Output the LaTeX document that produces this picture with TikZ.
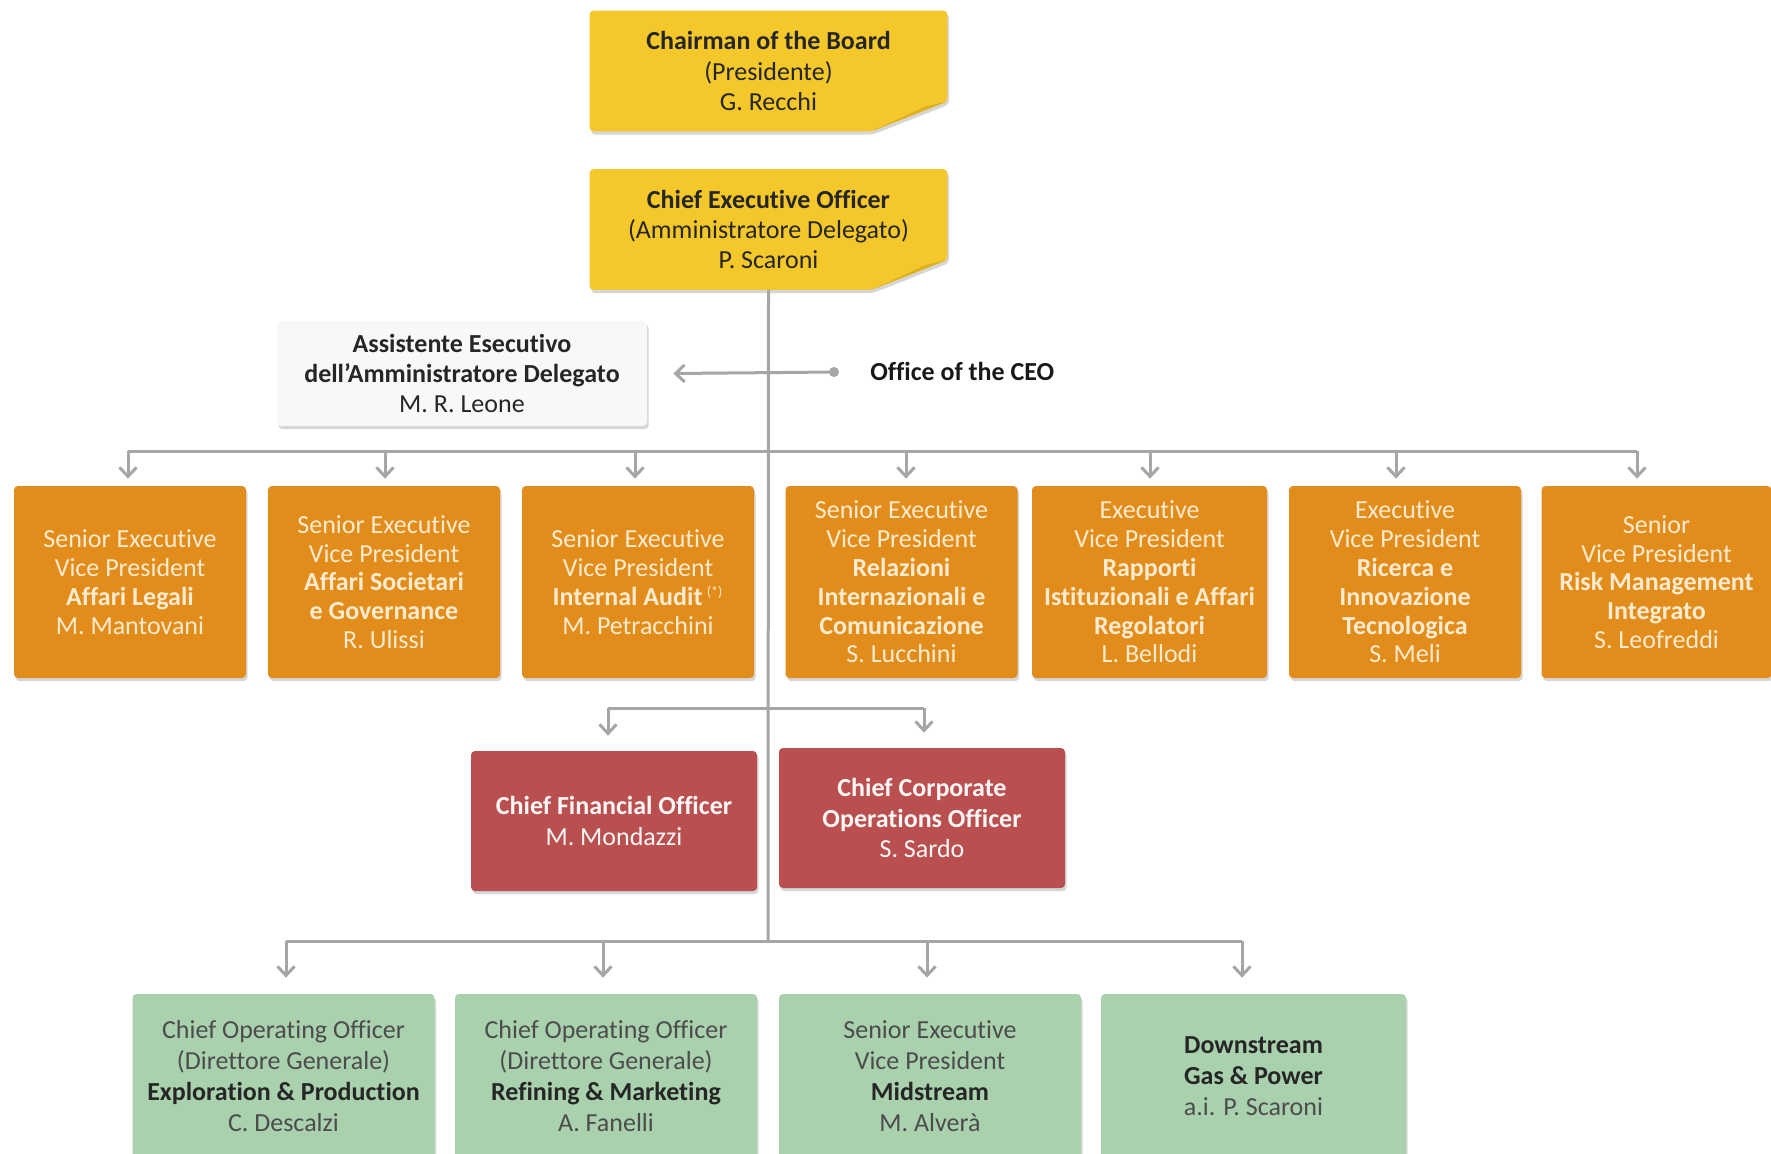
\documentclass[tikz,border=0pt]{standalone}
\usepackage{fontspec}
\setmainfont{Carlito}[Ligatures=CommonOff]
\usetikzlibrary{arrows.meta,shadows,calc,backgrounds}
\definecolor{yel}{HTML}{F4C82B}
\definecolor{yeldark}{HTML}{DDB021}
\definecolor{ora}{HTML}{E28D1B}
\definecolor{oratext}{HTML}{FCEBCF}
\definecolor{redb}{HTML}{B9504F}
\definecolor{grn}{HTML}{A9D1AE}
\definecolor{lin}{HTML}{A6A6A6}
\definecolor{asst}{HTML}{F8F8F8}
\begin{document}
\begin{tikzpicture}[x=0.5pt,y=-0.5pt,
  shad/.style={drop shadow={shadow xshift=0.8pt,shadow yshift=-1.6pt,opacity=0.16,fill=black}},
  box/.style={rectangle,rounded corners=2pt,align=center,inner sep=0pt,
    font=\fontsize{13}{14.4}\selectfont},
  yelbox/.style={box,text=black!85,minimum width=178.5pt,minimum height=60pt,font=\fontsize{13}{15.2}\selectfont},
  asstbox/.style={box,shad,fill=asst,text=black!85,minimum width=185pt,minimum height=52.5pt,font=\fontsize{13}{15.2}\selectfont},
  orabox/.style={box,shad,fill=ora,text=oratext,minimum width=116pt,minimum height=96pt},
  redbox/.style={box,shad,fill=redb,text=white!95!redb,minimum width=143pt,minimum height=70pt,font=\fontsize{13}{15.2}\selectfont},
  grnbox/.style={box,shad,fill=grn,text=black!70,minimum width=151pt,minimum height=82pt,font=\fontsize{13}{15.6}\selectfont},
  conn/.style={draw=lin,line width=1.5pt},
  arr/.style={conn,-{Straight Barb[length=4.5pt,width=8.5pt]}},
]
\useasboundingbox (0,0) rectangle (1771,1153);
\begin{scope}[on background layer]
\fill[white] (0,0) rectangle (1771,1153);
\end{scope}
\clip (0,0) rectangle (1771,1153);

\coordinate (trunkend) at (768,941);

% yellow boxes
\node[yelbox] (chair) at (768.5,71) {\textbf{Chairman of the Board}\\(Presidente)\\G. Recchi};
\node[yelbox] (ceo) at (768.5,229.5) {\textbf{Chief Executive Officer}\\(Amministratore Delegato)\\P. Scaroni};
\begin{scope}[on background layer]
\foreach \n in {chair,ceo}{
  \fill[yel,rounded corners=2pt,shad] (\n.south west) -- (\n.north west) -- (\n.north east) -- ([yshift=15pt]\n.south east) -- ([xshift=-38pt]\n.south east) -- cycle;
  \fill[yeldark] ([yshift=15pt]\n.south east) -- ([xshift=-38pt]\n.south east) -- ([xshift=-11pt,yshift=12.5pt]\n.south east) -- cycle;
}
\end{scope}

% trunk
\draw[conn] (ceo.south) -- (trunkend);

% assistant and office
\node[asstbox] (asst) at (462,373.5) {\textbf{Assistente Esecutivo}\\\textbf{dell'Amministratore Delegato}\\M. R. Leone};
\node[anchor=west,text=black!90,font=\fontsize{13}{14}\selectfont\bfseries,inner sep=0pt] (office) at (870,371) {Office of the CEO};
\coordinate (dot) at (834,372);
\fill[lin] (dot) circle (5);
\draw[arr] (dot) -- ([xshift=13pt]asst.east);

% orange row
\foreach \i/\x in {1/130,2/384,3/638,4/901.5,5/1149.5,6/1405,7/1656.5}{
  \coordinate (oc\i) at (\x,582);
}
\node[orabox] (o1) at (oc1) {Senior Executive\\Vice President\\\textbf{Affari Legali}\\M. Mantovani};
\node[orabox] (o2) at (oc2) {Senior Executive\\Vice President\\\textbf{Affari Societari}\\\textbf{e Governance}\\R. Ulissi};
\node[orabox] (o3) at (oc3) {Senior Executive\\Vice President\\\textbf{Internal Audit}\,\textsuperscript{\scriptsize(*)}\\M. Petracchini};
\node[orabox] (o4) at (oc4) {Senior Executive\\Vice President\\\textbf{Relazioni}\\\textbf{Internazionali e}\\\textbf{Comunicazione}\\S. Lucchini};
\node[orabox,minimum width=117.5pt] (o5) at (oc5) {Executive\\Vice President\\\textbf{Rapporti}\\\textbf{Istituzionali e Affari}\\\textbf{Regolatori}\\L. Bellodi};
\node[orabox] (o6) at (oc6) {Executive\\Vice President\\\textbf{Ricerca e}\\\textbf{Innovazione}\\\textbf{Tecnologica}\\S. Meli};
\node[orabox,minimum width=115pt] (o7) at (oc7) {Senior\\Vice President\\\textbf{Risk Management}\\\textbf{Integrato}\\S. Leofreddi};

\foreach \i/\x in {1/128,2/385,3/635,4/906,5/1150,6/1396,7/1637}{
  \coordinate (a\i) at (\x,451);
}
\draw[conn] (a1) -- (a7);
\foreach \i in {1,...,7}{
  \draw[arr,shorten >=3.5pt] (a\i) -- (a\i |- o\i.north);
}

% red row
\node[redbox] (cfo) at (614,821) {\textbf{Chief Financial Officer}\\M. Mondazzi};
\node[redbox] (cco) at (922,818) {\textbf{Chief Corporate}\\\textbf{Operations Officer}\\S. Sardo};
\coordinate (c1) at (608,708);
\coordinate (c2) at (924,708);
\draw[conn] (c1) -- (c2);
\draw[arr,shorten >=7.5pt] (c1) -- (c1 |- cfo.north);
\draw[arr,shorten >=7.5pt] (c2) -- (c2 |- cco.north);

% green row
\node[grnbox] (g1) at (283.5,1076) {Chief Operating Officer\\(Direttore Generale)\\\textbf{\color{black!85}Exploration \& Production}\\C. Descalzi};
\node[grnbox] (g2) at (606,1076) {Chief Operating Officer\\(Direttore Generale)\\\textbf{\color{black!85}Refining \& Marketing}\\A. Fanelli};
\node[grnbox] (g3) at (930,1076) {Senior Executive\\Vice President\\\textbf{\color{black!85}Midstream}\\M. Alverà};
\node[grnbox,minimum width=152.5pt] (g4) at (1253.5,1076) {\textbf{\color{black!85}Downstream}\\\textbf{\color{black!85}Gas \& Power}\\a.i. P. Scaroni};
\foreach \i/\x in {1/286,2/603,3/927,4/1242}{
  \coordinate (d\i) at (\x,941);
}
\draw[conn] (d1) -- (d4);
\foreach \i in {1,...,4}{
  \draw[arr,shorten >=8pt] (d\i) -- (d\i |- g\i.north);
}
\end{tikzpicture}
\end{document}
